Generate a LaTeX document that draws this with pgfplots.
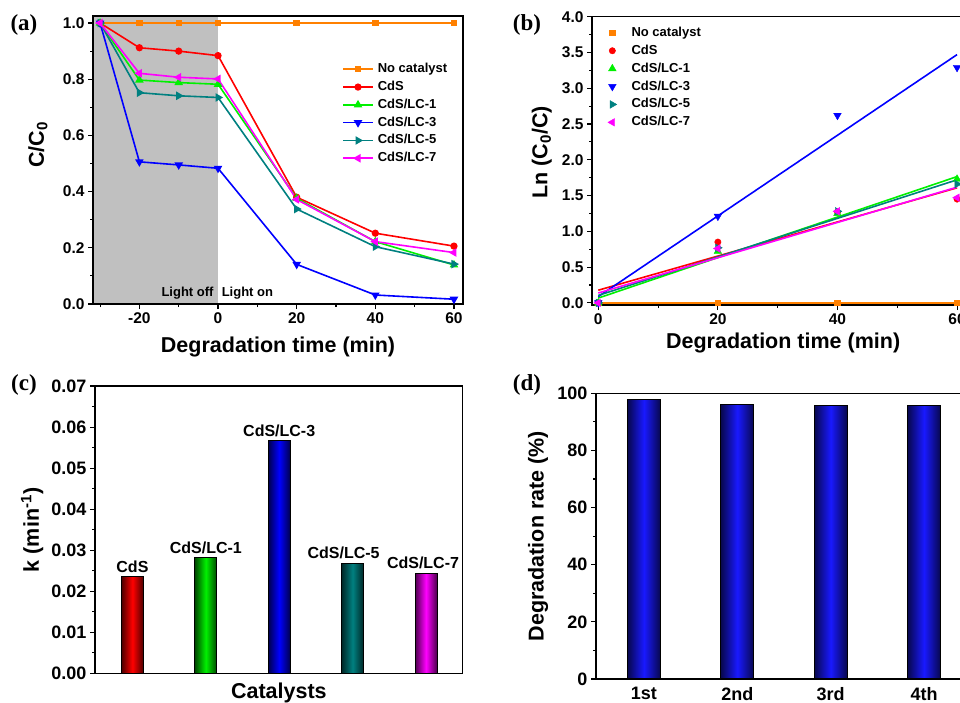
\documentclass[border=0pt]{standalone}
\usepackage{fontspec}
\setmainfont{Liberation Sans}
\newfontfamily\timesfont{Liberation Serif}
\usepackage{pgfplots}
\pgfplotsset{compat=1.18}

\definecolor{cOrange}{RGB}{255,128,0}
\definecolor{cRed}{RGB}{255,0,0}
\definecolor{cGreen}{RGB}{0,240,0}
\definecolor{cBlue}{RGB}{0,0,255}
\definecolor{cBar}{RGB}{25,25,255}
\definecolor{cTeal}{RGB}{0,128,128}
\definecolor{cMag}{RGB}{255,0,255}
\definecolor{cShade}{RGB}{192,192,192}

\pgfplotsset{
  panel/.style={
    scale only axis, anchor=south west, axis on top,
    axis line style={line width=1.5pt},
    tick align=outside, xtick pos=bottom, ytick pos=left,
    major tick length=5pt, minor tick length=3pt,
    tick style={black, line width=1.1pt},
    /pgf/number format/assume math mode=true,
    label style={font=\fontsize{21.5}{24}\selectfont\bfseries},
  },
  smalltk/.style={ticklabel style={font=\fontsize{15.5}{17}\selectfont\bfseries}},
  bigtk/.style={ticklabel style={font=\fontsize{18}{20}\selectfont\bfseries}},
  ln/.style={line width=1.6pt, mark options={solid}},
  cyl/.style={ybar, bar shift=0pt, draw=black, line width=0.8pt,
    left color=#1!30!black, right color=#1!30!black, middle color=#1},
}

\begin{document}
\begin{tikzpicture}
\useasboundingbox (0pt,0pt) rectangle (960pt,-703pt);
\clip (0pt,0pt) rectangle (960pt,-703pt);

% (a) C/C0 vs time
\begin{axis}[panel, smalltk, at={(93pt,-304pt)}, width=370pt, height=288pt,
  xmin=-31.8, xmax=62.3, ymin=0, ymax=1.025,
  xtick={-20,0,20,40,60}, minor xtick={-30,-10,10,30,50},
  ytick={0,0.2,0.4,0.6,0.8,1.0}, minor ytick={0.1,0.3,0.5,0.7,0.9},
  yticklabel style={/pgf/number format/.cd, fixed, fixed zerofill, precision=1},
  xlabel={Degradation time (min)}, ylabel={C/C\textsubscript{0}},
  xlabel style={at={(axis description cs:0.5,-0.149)}, anchor=center},
  ylabel style={at={(axis description cs:-0.149,0.552)}, anchor=center},
  legend cell align=left,
  legend image code/.code={\draw[mark repeat=2,mark phase=2,#1] plot coordinates {(0pt,0pt) (15pt,0pt) (30pt,0pt)}; \path (33pt,0pt);},
  legend style={at={(0.673,0.840)}, anchor=north west, draw=none, fill=none,
    inner xsep=0pt, inner ysep=0pt, row sep=3.8pt,
    font=\fontsize{13}{14}\selectfont\bfseries,
    nodes={inner sep=1pt, text height=9.5pt, text depth=2.5pt}},
]
\fill[cShade] (axis cs:-40,-0.1) rectangle (axis cs:0,1.2);
\addplot[cOrange, ln, mark=square*, mark size=2.4pt] coordinates {(-30,1) (-20,1) (-10,1) (0,1) (20,1) (40,1) (60,1)};
\addplot[cRed, ln, mark=*, mark size=2.8pt] coordinates {(-30,1) (-20,0.912) (-10,0.900) (0,0.884) (20,0.380) (40,0.252) (60,0.206)};
\addplot[cGreen, ln, mark=triangle*, mark size=3.4pt] coordinates {(-30,1) (-20,0.797) (-10,0.788) (0,0.782) (20,0.376) (40,0.222) (60,0.139)};
\addplot[cBlue, ln, mark=triangle*, mark size=3.4pt, mark options={rotate=180}] coordinates {(-30,1) (-20,0.506) (-10,0.495) (0,0.483) (20,0.141) (40,0.032) (60,0.017)};
\addplot[cTeal, ln, mark=triangle*, mark size=3.4pt, mark options={rotate=-90}] coordinates {(-30,1) (-20,0.752) (-10,0.741) (0,0.735) (20,0.338) (40,0.204) (60,0.142)};
\addplot[cMag, ln, mark=triangle*, mark size=3.4pt, mark options={rotate=90}] coordinates {(-30,1) (-20,0.821) (-10,0.807) (0,0.801) (20,0.372) (40,0.222) (60,0.183)};
\legend{No catalyst, CdS, CdS/LC-1, CdS/LC-3, CdS/LC-5, CdS/LC-7}
\node[anchor=east, inner sep=0pt, font=\fontsize{13}{14}\selectfont\bfseries] at (axis cs:-1.1,0.039) {Light off};
\node[anchor=west, inner sep=0pt, font=\fontsize{13}{14}\selectfont\bfseries] at (axis cs:0.9,0.039) {Light on};
\end{axis}

% (b) ln(C0/C) vs time
\begin{axis}[panel, smalltk, at={(592pt,-305pt)}, width=377pt, height=288.3pt,
  xmin=-1.05, xmax=62, ymin=-0.03, ymax=4.0,
  xtick={0,20,40,60}, minor xtick={10,30,50},
  ytick={0,0.5,1.0,1.5,2.0,2.5,3.0,3.5,4.0}, minor y tick num=1,
  yticklabel style={/pgf/number format/.cd, fixed, fixed zerofill, precision=1},
  xlabel={Degradation time (min)}, ylabel={Ln (C\textsubscript{0}/C)},
  xlabel style={at={(axis description cs:0.507,-0.132)}, anchor=center},
  ylabel style={at={(axis description cs:-0.133,0.53)}, anchor=center},
  legend cell align=left,
  legend image code/.code={\path (0pt,0pt) (27pt,0pt); \draw[#1] plot coordinates {(9pt,0pt)};},
  legend style={at={(0.029,0.969)}, anchor=north west, draw=none, fill=none,
    inner xsep=0pt, inner ysep=0pt, row sep=3.9pt,
    font=\fontsize{13}{14}\selectfont\bfseries,
    nodes={inner sep=1pt, text height=9.5pt, text depth=2.5pt}},
]
\addplot[cOrange, line width=1.6pt, forget plot] coordinates {(0,0) (60,0)};
\addplot[cRed, line width=1.6pt, forget plot] coordinates {(0,0.177) (60,1.608)};
\addplot[cGreen, line width=1.6pt, forget plot] coordinates {(0,0.067) (60,1.765)};
\addplot[cBlue, line width=1.6pt, forget plot] coordinates {(0,0.088) (60,3.47)};
\addplot[cTeal, line width=1.6pt, forget plot] coordinates {(0,0.104) (60,1.72)};
\addplot[cMag, line width=1.6pt, forget plot] coordinates {(0,0.138) (60,1.617)};
\addplot[cOrange, only marks, mark=square*, mark size=2.8pt] coordinates {(0,0) (20,0) (40,0) (60,0)};
\addplot[cRed, only marks, mark=*, mark size=3.2pt] coordinates {(0,0) (20,0.85) (40,1.27) (60,1.45)};
\addplot[cGreen, only marks, mark=triangle*, mark size=4.4pt] coordinates {(0,0) (20,0.72) (40,1.25) (60,1.73)};
\addplot[cBlue, only marks, mark=triangle*, mark size=4.4pt, mark options={rotate=180}] coordinates {(0,0) (20,1.21) (40,2.62) (60,3.29)};
\addplot[cTeal, only marks, mark=triangle*, mark size=4.4pt, mark options={rotate=-90}] coordinates {(0,0) (20,0.77) (40,1.28) (60,1.66)};
\addplot[cMag, only marks, mark=triangle*, mark size=4.4pt, mark options={rotate=90}] coordinates {(0,0) (20,0.76) (40,1.28) (60,1.47)};
\legend{No catalyst, CdS, CdS/LC-1, CdS/LC-3, CdS/LC-5, CdS/LC-7}
\end{axis}

% (c) rate constants
\begin{axis}[panel, bigtk, at={(95pt,-673.3pt)}, width=367.7pt, height=287.3pt,
  xmin=0.49, xmax=5.5, ymin=0, ymax=0.07,
  xtick=\empty, ytick={0,0.01,0.02,0.03,0.04,0.05,0.06,0.07}, minor y tick num=1,
  scaled y ticks=false,
  yticklabel style={/pgf/number format/.cd, fixed, fixed zerofill, precision=2},
  xlabel={Catalysts}, ylabel={k (min\textsuperscript{-1})},
  xlabel style={at={(axis description cs:0.5,-0.069)}, anchor=center},
  ylabel style={at={(axis description cs:-0.171,0.499)}, anchor=center},
  every node near coord/.append style={font=\fontsize{16}{18}\selectfont\bfseries, anchor=base, yshift=4.5pt, black},
]
\addplot[cyl=cRed, bar width=22pt, nodes near coords={CdS}] coordinates {(1,0.02354)};
\addplot[cyl=cGreen, bar width=22pt, nodes near coords={CdS/LC-1}] coordinates {(2,0.02817)};
\addplot[cyl=cBlue, bar width=22pt, nodes near coords={CdS/LC-3}] coordinates {(3,0.05667)};
\addplot[cyl=cTeal, bar width=22pt, nodes near coords={CdS/LC-5}, every node near coord/.append style={xshift=-9pt}] coordinates {(4,0.0268)};
\addplot[cyl=cMag, bar width=22pt, nodes near coords={CdS/LC-7}, every node near coord/.append style={xshift=-3pt}] coordinates {(5,0.02436)};
\end{axis}

% (d) recycling
\begin{axis}[panel, bigtk, at={(596pt,-679pt)}, width=376pt, height=285.7pt,
  xmin=0.486, xmax=4.514, ymin=0, ymax=100,
  xtick={1,2,3,4}, xticklabels={1st,2nd,3rd,4th}, x tick style={draw=none},
  ytick={0,20,40,60,80,100}, minor y tick num=1,
  ylabel={Degradation rate (\%)},
  ylabel style={at={(axis description cs:-0.154,0.5)}, anchor=center},
]
\addplot[cyl=cBar, bar width=33pt] coordinates {(1,97.7)};
\addplot[cyl=cBar, bar width=33pt] coordinates {(2,96.2)};
\addplot[cyl=cBar, bar width=33pt] coordinates {(3,95.6)};
\addplot[cyl=cBar, bar width=33pt] coordinates {(4,95.6)};
\end{axis}

\node[font=\timesfont\fontsize{23}{25}\selectfont\bfseries] at (24pt,-25pt) {(a)};
\node[font=\timesfont\fontsize{23}{25}\selectfont\bfseries] at (527pt,-25pt) {(b)};
\node[font=\timesfont\fontsize{23}{25}\selectfont\bfseries] at (24pt,-385pt) {(c)};
\node[font=\timesfont\fontsize{23}{25}\selectfont\bfseries] at (527pt,-385pt) {(d)};
\end{tikzpicture}
\end{document}
